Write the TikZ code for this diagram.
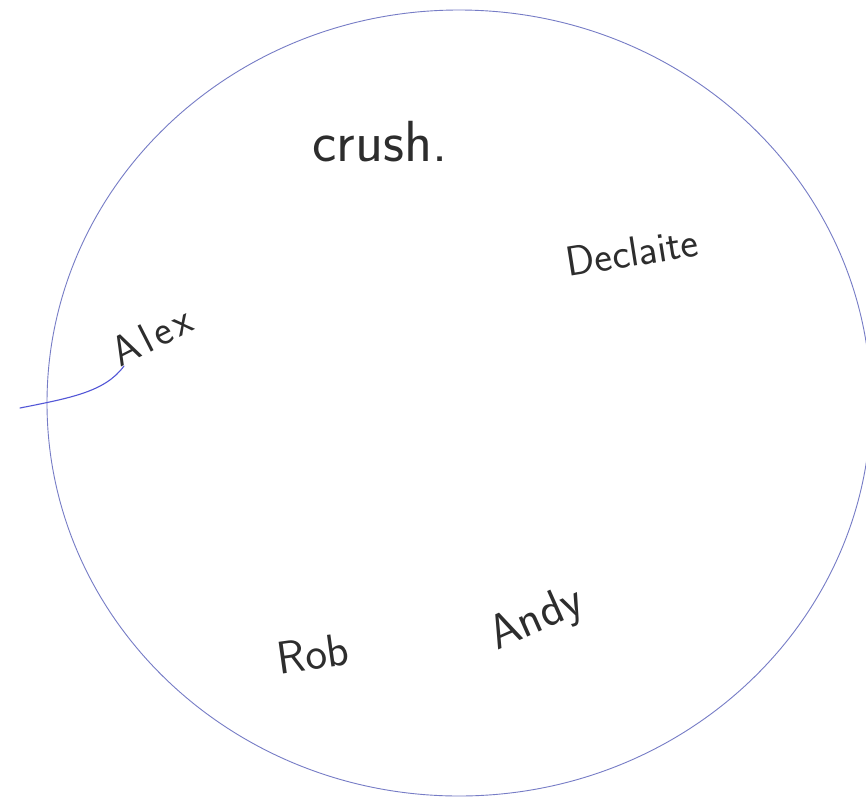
\documentclass[tikz,border=0pt]{standalone}
\usepackage{tikz}
\usepackage{xcolor}
\definecolor{penblue}{RGB}{118,124,198}
\definecolor{inkgray}{RGB}{45,45,45}

\begin{document}
\begin{tikzpicture}[x=1pt, y=-1pt,
  ring/.style={draw=penblue, line width=0.9pt},
  person/.style={inkgray, font=\sffamily\fontsize{#1}{#1}\selectfont, inner sep=0pt},
  person/.default=48]
  \useasboundingbox (0,0) rectangle (866,798);
  \clip (0,0) rectangle (866,798);
  \fill[white] (0,0) rectangle (866,798);
  \draw[ring] (459,403) ellipse [x radius=412, y radius=393];
  % names written round the ring
  \node[person=58] (crush) at (380,142) {crush.};
  \node[person=42, rotate=9] (declaite) at (632,252) {Declaite};
  \node[person=42, rotate=27] (alex) at (152,336) {A\kern5pt l\kern4pt e\kern4pt x};
  \node[person=46, rotate=8] (rob) at (313,654) {Rob};
  \node[person=48, rotate=24] (andy) at (537,620) {Andy};
  % stray stroke under Alex
  \coordinate (tail) at (20,408);
  \draw[penblue!70!blue, line width=1.1pt, line cap=round]
    (tail) .. controls (70,398) and (105,392) .. (124,366);
\end{tikzpicture}
\end{document}
